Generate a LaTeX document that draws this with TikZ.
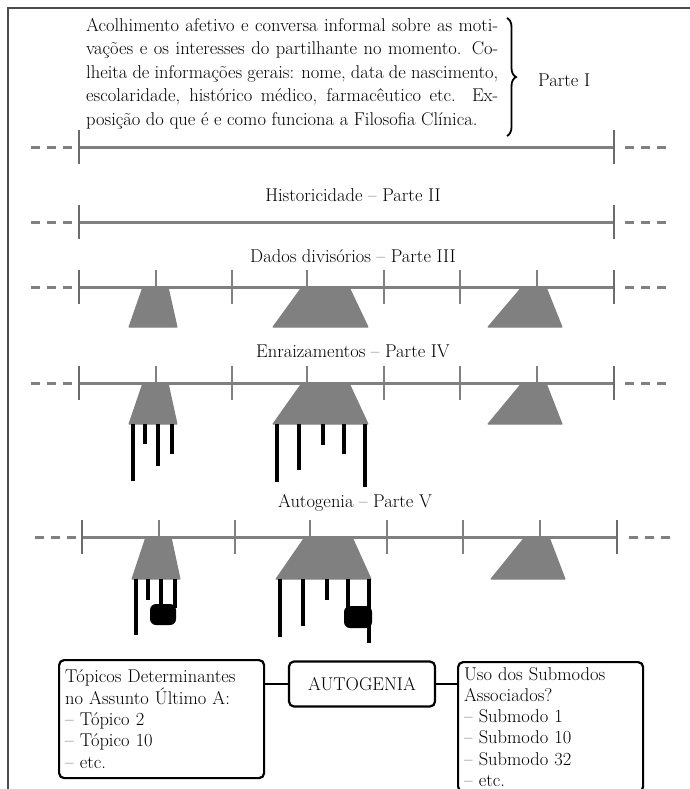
\documentclass[tikz,border=0pt]{standalone}
\usetikzlibrary{decorations.pathreplacing}
\begin{document}
\begin{tikzpicture}[x=1pt, y=-1pt,
    every node/.style={font=\fontsize{18.5}{23.5}\selectfont},
    axis/.style={draw=gray, line width=3pt},
    axisdash/.style={draw=gray, line width=3pt, dash pattern=on 9pt off 7pt},
    smalltick/.style={draw=gray, line width=1.3pt},
    endtick/.style={draw=gray!85!black, line width=2.4pt},
    block/.style={fill=gray, draw=gray, line width=1pt, line join=round},
    root/.style={black, line width=3.6pt},
    knot/.style={fill=black, rounded corners=6pt},
    box/.style={draw, line width=2.2pt, rounded corners=5pt, inner xsep=6pt, inner ysep=5pt,
        font=\fontsize{18.5}{21.3}\selectfont}]
    \useasboundingbox (0,0) rectangle (690,789);
    \draw[line width=2.2pt, black!70] (8,789) -- (8,8) -- (690,8);
    % Parte I
    \node[anchor=north west, inner sep=0pt, align=left] (intro) at (86,18)
        {\makebox[412pt][s]{Acolhimento afetivo e conversa informal sobre as moti-}\\
         \makebox[412pt][s]{vações e os interesses do partilhante no momento. Co-}\\
         \makebox[412pt][s]{lheita de informações gerais: nome, data de nascimento,}\\
         \makebox[412pt][s]{escolaridade, histórico médico, farmacêutico etc. Ex-}\\
         posição do que é e como funciona a Filosofia Clínica.};
    \draw[decorate, decoration={brace, amplitude=9pt}, line width=1.8pt] (507,18) -- (507,136);
    \node[anchor=west, inner sep=0pt] (part1) at (538,80) {Parte I};
    \draw[axisdash] (31,147) -- (73,147);
    \draw[axis] (79,147) -- (614,147);
    \draw[axisdash] (625,147) -- (667,147);
    \foreach \x in {79,614} \draw[endtick] (\x,130) -- (\x,164);
    % Parte II
    \node (hist) at (353,195) {Historicidade -- Parte II};
    \draw[axisdash] (31,222) -- (73,222);
    \draw[axis] (79,222) -- (614,222);
    \draw[axisdash] (625,222) -- (667,222);
    \foreach \x in {79,614} \draw[endtick] (\x,205) -- (\x,239);
    % Parte III
    \node (dados) at (353,256) {Dados divisórios -- Parte III};
    \draw[axisdash] (31,287) -- (73,287);
    \draw[axis] (79,287) -- (614,287);
    \draw[axisdash] (625,287) -- (667,287);
    \foreach \x in {156,232,307,384,460,537} \draw[smalltick] (\x,270) -- (\x,304);
    \foreach \x in {79,614} \draw[endtick] (\x,270) -- (\x,304);
    \filldraw[block] (143,287) -- (168,287) -- (177,327) -- (129,327) -- cycle;
    \filldraw[block] (302,287) -- (349,287) -- (368,327) -- (273,327) -- cycle;
    \filldraw[block] (522,287) -- (546,287) -- (562,327) -- (488,327) -- cycle;
    % Parte IV
    \node (enraiz) at (353,351) {Enraizamentos -- Parte IV};
    \draw[axisdash] (31,383) -- (73,383);
    \draw[axis] (79,383) -- (614,383);
    \draw[axisdash] (625,383) -- (667,383);
    \foreach \x in {156,232,307,384,460,537} \draw[smalltick] (\x,366) -- (\x,400);
    \foreach \x in {79,614} \draw[endtick] (\x,366) -- (\x,400);
    \filldraw[block] (143,383) -- (168,383) -- (177,424) -- (129,424) -- cycle;
    \filldraw[block] (302,383) -- (349,383) -- (368,424) -- (273,424) -- cycle;
    \filldraw[block] (522,383) -- (546,383) -- (562,424) -- (488,424) -- cycle;
    \draw[root] (133,424) -- (133,481);
    \draw[root] (145,424) -- (145,444);
    \draw[root] (158,424) -- (158,466);
    \draw[root] (172,424) -- (172,454);
    \draw[root] (277,424) -- (277,482);
    \draw[root] (299,424) -- (299,470);
    \draw[root] (323,424) -- (323,445);
    \draw[root] (344,424) -- (344,454);
    \draw[root] (365,424) -- (365,487);
    % Parte V
    \node (autogen) at (355,503) {Autogenia -- Parte V};
    \draw[axisdash] (35,537) -- (77,537);
    \draw[axis] (82,537) -- (617,537);
    \draw[axisdash] (629,537) -- (672,537);
    \foreach \x in {159,235,310,387,463,540} \draw[smalltick] (\x,520) -- (\x,554);
    \foreach \x in {82,617} \draw[endtick] (\x,520) -- (\x,554);
    \filldraw[block] (146,537) -- (171,537) -- (180,579) -- (132,579) -- cycle;
    \filldraw[block] (305,537) -- (352,537) -- (371,579) -- (276,579) -- cycle;
    \filldraw[block] (525,537) -- (549,537) -- (565,579) -- (491,579) -- cycle;
    \draw[root] (136,579) -- (136,635);
    \draw[root] (148,579) -- (148,600);
    \draw[root] (161,579) -- (161,610);
    \draw[root] (175,579) -- (175,608);
    \fill[knot] (150,604) rectangle (176,625);
    \draw[root] (280,579) -- (280,637);
    \draw[root] (303,579) -- (303,626);
    \draw[root] (327,579) -- (327,600);
    \draw[root] (348,579) -- (348,610);
    \draw[root] (369,579) -- (369,643);
    \fill[knot] (344,606) rectangle (372,628);
    % caixas
    \node[box, anchor=north west, minimum width=205pt, minimum height=118pt, align=left,
        text width=193pt] (topics) at (58,659)
        {Tópicos Determinantes\\no Assunto Último A:\\-- Tópico 2\\-- Tópico 10\\-- etc.};
    \node[box, minimum width=146pt, minimum height=45pt] (autog) at (362,684) {AUTOGENIA};
    \node[box, anchor=north west, minimum width=185pt, align=left,
        text width=173pt] (submods) at (457,661)
        {Uso dos Submodos\\Associados?\\-- Submodo 1\\-- Submodo 10\\-- Submodo 32\\-- etc.};
    \draw[line width=1.6pt] (autog.west) -- (autog.west -| topics.east);
    \draw[line width=1.6pt] (autog.east) -- (autog.east -| submods.west);
\end{tikzpicture}
\end{document}
